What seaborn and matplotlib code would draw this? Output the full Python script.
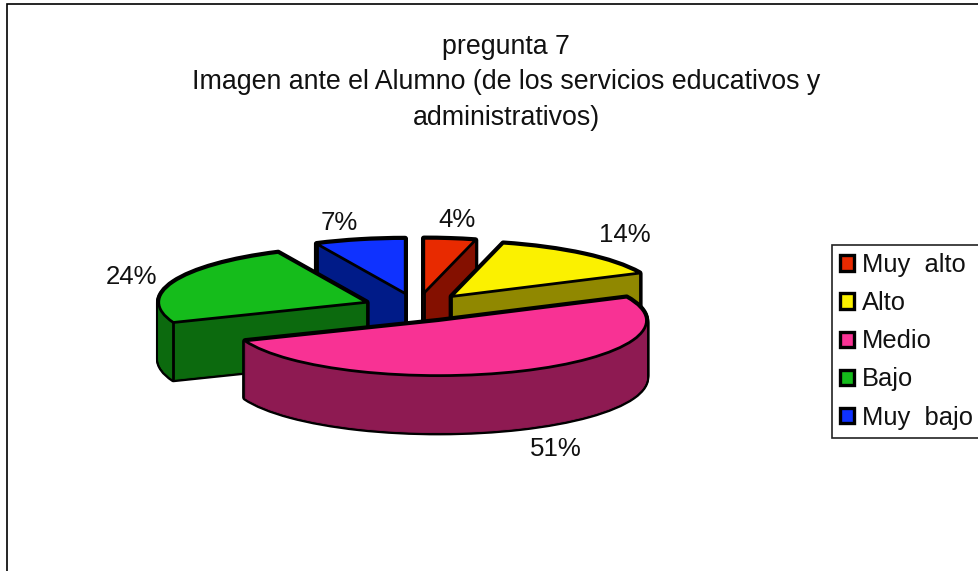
import numpy as np
import matplotlib
matplotlib.use("Agg")
import matplotlib.pyplot as plt
from matplotlib.patches import Patch, Rectangle
import seaborn as sns

title = "pregunta 7\nImagen ante el Alumno (de los servicios educativos y\nadministrativos)"
categories = ["Muy  alto", "Alto", "Medio", "Bajo", "Muy  bajo"]
values = [4, 14, 51, 24, 7]
top_colors = ["#E82A00", "#FBF100", "#F83294", "#15BC1B", "#0F32FF"]
side_colors = ["#841000", "#908800", "#8E1A52", "#0C6A0E", "#001B88"]
paint_order = [0, 1, 4, 3, 2]

W, H = 979, 571
CX, CY, RX, RY = 417.0, 307.5, 208.0, 55.0
DEPTH_PX = 57
EXPLODE = 0.26
LW = 2.0

sns.set_theme(style="white")
plt.rcParams["font.family"] = ["Liberation Sans", "DejaVu Sans"]

fig = plt.figure(figsize=(W / 100, H / 100), dpi=100, facecolor="white")
ax = fig.add_axes([0, 0, 1, 1])

fracs = np.array(values) / sum(values)
starts = np.concatenate([[0], np.cumsum(fracs)[:-1]]) * 2 * np.pi
ends = np.cumsum(fracs) * 2 * np.pi
depth = DEPTH_PX / RY
step = 1.0 / RY


def wedge(i, y0, face, edge, lw, z):
    explode = [EXPLODE if j == i else 0 for j in range(len(values))]
    colors = [face] * len(values)
    w, _ = ax.pie(values, explode=explode, colors=colors, startangle=90,
                  counterclock=False, radius=1, center=(0, y0),
                  wedgeprops=dict(edgecolor=edge, linewidth=lw, joinstyle="round"))
    for j, p in enumerate(w):
        if j == i:
            p.set_zorder(z)
        else:
            p.remove()


z = 1
layers = np.append(np.arange(0, depth, step), depth)
for i in paint_order:
    # dark silhouette: outlined layers, then the same layers filled over them
    for y in layers:
        wedge(i, -y, "black", "black", LW * 2, z)
    z += 1
    for y in layers:
        wedge(i, -y, side_colors[i], side_colors[i], 0.6, z)
    z += 1
    # visible vertical corners of the radial walls
    mid = (starts[i] + ends[i]) / 2
    ax0, ay0 = EXPLODE * np.sin(mid), EXPLODE * np.cos(mid)
    if np.sin(starts[i]) < -1e-6:
        th = starts[i]
    elif np.sin(ends[i]) > 1e-6:
        th = ends[i]
    else:
        th = None
    if th is not None:
        for r in (0, 1):
            x = ax0 + r * np.sin(th)
            y = ay0 + r * np.cos(th)
            ax.plot([x, x], [y, y - depth], color="black", lw=LW, zorder=z + 0.5,
                    solid_capstyle="round")
    z += 1
    wedge(i, 0, top_colors[i], "black", LW, z)
    z += 1

ax.set_aspect("auto")
ax.set_xlim((0 - CX) / RX, (W - CX) / RX)
ax.set_ylim((CY - H) / RY, CY / RY)
ax.axis("off")

# outer frame, cut by the picture's right and bottom edge
fig.add_artist(Rectangle((7.5 / W, -0.05), 1.2, (H - 4.5) / H + 0.05, transform=fig.transFigure,
                         facecolor="none", edgecolor="black", linewidth=1.2))

INK = "#111111"
fig.text(506 / W, 1 - 34 / H, title, ha="center", va="top", fontsize=19.3,
         linespacing=1.47, color=INK)

label_px = [(457, 220), (625, 235), (556, 449), (132, 277), (339, 223)]
for v, (px, py) in zip(values, label_px):
    fig.text(px / W, 1 - py / H, f"{v}%", ha="center", va="center", fontsize=18.6,
             color=INK)

handles = [Patch(facecolor=c, edgecolor="black", linewidth=2.4) for c in top_colors]
leg = fig.legend(handles, categories, loc="upper left",
                 bbox_to_anchor=(832 / W, 1 - 245 / H), bbox_transform=fig.transFigure,
                 fontsize=18.4, frameon=True, fancybox=False, framealpha=1, edgecolor="#222222",
                 handlelength=0.55, handleheight=0.55, handletextpad=0.32, labelspacing=0.555,
                 borderpad=0.31, borderaxespad=0, labelcolor=INK)
leg.get_frame().set_linewidth(1.2)

fig.savefig("out.png", dpi=100, facecolor="white")
